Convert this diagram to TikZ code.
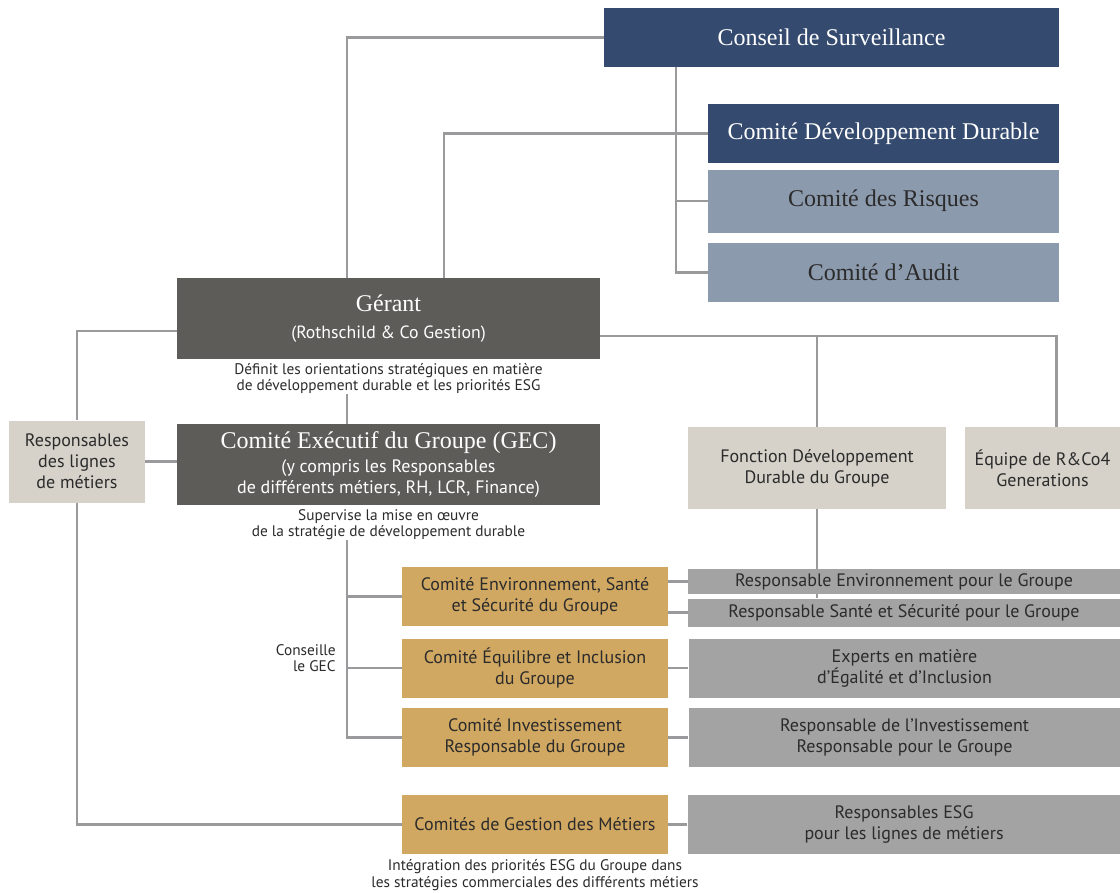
\documentclass[tikz,border=0pt]{standalone}
\usepackage{fontspec}
\setmainfont{Liberation Serif}
\setsansfont{PT Sans}
\usepackage{tikz}
\usetikzlibrary{positioning}
\usetikzlibrary{backgrounds}

\definecolor{navy}{HTML}{344A6E}
\definecolor{slate}{HTML}{8C9AAE}
\definecolor{taupe}{HTML}{5E5C58}
\definecolor{sand}{HTML}{D6D2CA}
\definecolor{ochre}{HTML}{D1A862}
\definecolor{ash}{HTML}{A3A3A3}
\definecolor{wire}{HTML}{9A9A9C}
\definecolor{ink}{HTML}{2B2B2B}

\tikzset{
  box/.style={rectangle, inner sep=0pt, align=center, text=ink,
    font=\sffamily\fontsize{13.5}{15.75}\selectfont},
  board/.style={box, fill=navy, text=white, minimum width=263.25pt, minimum height=44.25pt,
    font=\rmfamily\fontsize{18}{20}\selectfont},
  comite/.style={board, fill=slate, text=ink},
  exec/.style={box, fill=taupe, text=white, minimum width=317.25pt, minimum height=60.75pt,
    font=\rmfamily\fontsize{18}{20}\selectfont},
  pale/.style={box, fill=sand, minimum height=61.5pt},
  gold/.style={box, fill=ochre, minimum width=199.5pt, minimum height=44.25pt},
  grey/.style={box, fill=ash, minimum width=324pt, minimum height=44.25pt},
  caption/.style={inner sep=0pt, align=center, text=ink,
    font=\sffamily\fontsize{11.5}{12.2}\selectfont},
  wire/.style={draw=wire, line width=1.8pt}
}

\begin{document}
\begin{tikzpicture}[x=0.75pt,y=-0.75pt]
  \useasboundingbox (0,0) rectangle (1120,892);

  %% conseil et comites
  \node[board, minimum width=341.25pt] (cs) at (831.5,37.5) {Conseil de Surveillance};
  \node[board] (cdd) at (883.5,133.5) {Comité Développement Durable};
  \node[comite, minimum height=47.25pt, below=4.5pt of cdd] (cr) {Comité des Risques};
  \node[comite, below=7.5pt of cr] (ca) {Comité d’Audit};

  %% gerant et GEC
  \node[exec] (gerant) at (388.5,318.5)
    {Gérant\\{\sffamily\fontsize{13.3}{15}\selectfont (Rothschild \& Co Gestion)}};
  \node[caption, below=3pt of gerant] (defin)
    {Définit les orientations stratégiques en matière\\de développement durable et les priorités ESG};
  \node[exec, font=\sffamily\fontsize{13.5}{15.75}\selectfont] (gec) at (388.5,464.5)
    {{\rmfamily\fontsize{18}{20}\selectfont Comité Exécutif du Groupe (GEC)}\\[2pt]
     (y compris les Responsables\\de différents métiers, RH, LCR, Finance)};
  \node[caption, below=3pt of gec] (sup)
    {Supervise la mise en œuvre\\de la stratégie de développement durable};
  \node[pale, minimum width=102pt] (resp) at (77,461.5) {Responsables\\des lignes\\de métiers};
  \node[pale, minimum width=193.5pt] (fdd) at (817,468) {Fonction Développement\\Durable du Groupe};
  \node[pale, minimum width=117pt, right=13.5pt of fdd] (equipe) {Équipe de R\&Co4\\Generations};

  %% comites du groupe
  \node[gold] (ess) at (535,596.5) {Comité Environnement, Santé\\et Sécurité du Groupe};
  \node[gold, below=9pt of ess] (eq) {Comité Équilibre et Inclusion\\du Groupe};
  \node[gold, below=7.5pt of eq] (ir) {Comité Investissement\\Responsable du Groupe};
  \node[gold] (cgm) at (535,824.5) {Comités de Gestion des Métiers};

  \node[grey, minimum height=18.75pt] (renv) at (904,581.5) {Responsable Environnement pour le Groupe};
  \node[grey, minimum height=21pt, below=3pt of renv] (rsan) {Responsable Santé et Sécurité pour le Groupe};
  \node[grey, right=15pt of eq] (exp) {Experts en matière\\d’Égalité et d’Inclusion};
  \node[grey, right=15pt of ir] (rir) {Responsable de l’Investissement\\Responsable pour le Groupe};
  \node[grey, minimum width=324.75pt, right=14.25pt of cgm] (resg) {Responsables ESG\\pour les lignes de métiers};

  \node[caption, align=right, anchor=east] (conseille) at (336,658) {Conseille\\le GEC};
  \node[caption, below=4pt of cgm] (integ)
    {Intégration des priorités ESG du Groupe dans\\les stratégies commerciales des différents métiers};

  %% liaisons
  \begin{pgfonlayer}{background}
    \draw[wire] (cs.west) -| ([xshift=-31.1pt]gerant.north);
    \draw[wire] (cdd.west) -| ([xshift=41.6pt]gerant.north);
    \coordinate (csbus) at ([xshift=-116.6pt]cs.south);
    \draw[wire] (csbus) |- (ca.west);
    \draw[wire] (cr.west) -- (cr.west -| csbus);
    \draw[wire] ([yshift=-9.4pt]gerant.west) -| (resp.north);
    \coordinate (gright) at ([yshift=-13.1pt]gerant.east);
    \draw[wire] (gright) -| ([xshift=10.5pt]equipe.north);
    \draw[wire] (fdd.north) -- (fdd.north |- gright);
    \draw[wire] ([xshift=-31.1pt]gec.north) -- ([xshift=-31.1pt]gec.north |- defin.south);
    \draw[wire] (resp.east) -- (resp.east -| gec.west);
    \draw[wire] (resp.south) |- (cgm.west);
    \coordinate (gecbus) at ([xshift=-31.1pt]gec.north |- sup.south);
    \draw[wire] (gecbus) |- (ir.west);
    \draw[wire] (ess.west) -- (ess.west -| gecbus);
    \draw[wire] (eq.west) -- (eq.west -| gecbus);
    \draw[wire] (fdd.south) -- (fdd.south |- rsan.north);
    \draw[wire] (renv.west) -- (renv.west -| ess.east);
    \draw[wire] (rsan.west) -- (rsan.west -| ess.east);
    \draw[wire] (eq.east) -- (exp.west);
    \draw[wire] (ir.east) -- (rir.west);
    \draw[wire] (cgm.east) -- (resg.west);
  \end{pgfonlayer}
\end{tikzpicture}
\end{document}
